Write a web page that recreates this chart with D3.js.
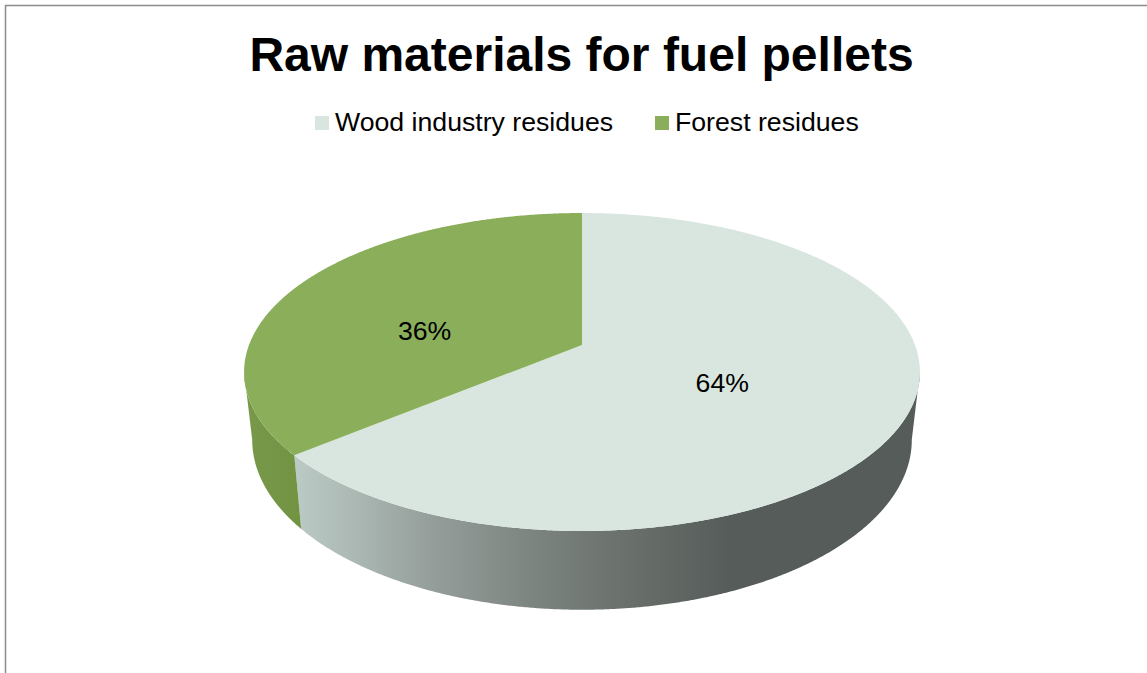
<!DOCTYPE html>
<html>
<head>
<meta charset="utf-8">
<script src="https://cdn.jsdelivr.net/npm/d3@7"></script>
<style>
html,body{margin:0;padding:0;background:#fff;overflow:hidden}
svg{display:block}
text{font-family:"Liberation Sans",Arial,sans-serif;fill:#000}
</style>
</head>
<body>
<svg id="chart" width="1147" height="673"></svg>
<script>
const categories = ["Wood industry residues", "Forest residues"];
const seriesValues = [64, 36];
const valueLabels = ["64%", "36%"];
const titleText = "Raw materials for fuel pellets";

const topColors = ["#d9e6df", "#8aae5a"];

const svg = d3.select("#chart");

// Perspective projection of a unit disc: apex, tilt and depth of the 3D pie
const cx = 582, tilt = 0.1698;
const topFace = {y0: 345, a: 154.4, c: 333};
const baseFace = {y0: 411, a: 165, c: 325};
function project(face, angle, r = 1) {
  const u = Math.sin(angle) * r, v = -Math.cos(angle) * r;
  const w = 1 - tilt * v;
  return [cx + face.c * u / w, face.y0 + face.a * v / w];
}
const pie = d3.pie().sort(null).startAngle(0).endAngle(2 * Math.PI);
const arcs = pie(seriesValues);
const line = d3.line();
const arcAngles = (a0, a1) => {
  const n = Math.max(2, Math.ceil((a1 - a0) / 0.005));
  return d3.range(n + 1).map(i => a0 + (a1 - a0) * i / n);
};

// Gradients
const defs = svg.append("defs");
const g1 = defs.append("linearGradient").attr("id", "wallLight")
  .attr("gradientUnits", "userSpaceOnUse").attr("x1", 292).attr("x2", 920).attr("y1", 0).attr("y2", 0);
[[0, "#bccbc6"], [0.1, "#abb8b3"], [0.22, "#959e9a"], [0.4, "#7a827e"], [0.58, "#646a66"], [0.7, "#565c59"], [1, "#565c59"]]
  .forEach(([o, c]) => g1.append("stop").attr("offset", o).attr("stop-color", c));
const g2 = defs.append("linearGradient").attr("id", "wallGreen")
  .attr("gradientUnits", "userSpaceOnUse").attr("x1", 244).attr("x2", 300).attr("y1", 0).attr("y2", 0);
[[0, "#78994a"], [1, "#729342"]]
  .forEach(([o, c]) => g2.append("stop").attr("offset", o).attr("stop-color", c));
const wallFills = ["url(#wallLight)", "url(#wallGreen)"];

// Chart border (open on right and bottom)
svg.append("path").attr("d", "M5.5,673V5.5H1147").attr("fill", "none").attr("stroke", "#8c8c8c").attr("stroke-width", 1.5);

// Side walls: only the part of each slice facing the viewer
const frontStart = Math.PI / 2 + 0.17, frontEnd = 3 * Math.PI / 2 - 0.17;
arcs.forEach((d, i) => {
  const a0 = Math.max(d.startAngle, frontStart), a1 = Math.min(d.endAngle, frontEnd);
  if (a1 <= a0) return;
  const angles = arcAngles(a0, a1);
  const pts = angles.map(a => project(topFace, a)).concat(angles.slice().reverse().map(a => project(baseFace, a)));
  svg.append("path").attr("d", line(pts) + "Z").attr("fill", wallFills[i]);
});

// Top faces
arcs.forEach((d, i) => {
  const pts = [[cx, topFace.y0]].concat(arcAngles(d.startAngle, d.endAngle).map(a => project(topFace, a)));
  svg.append("path").attr("d", line(pts) + "Z").attr("fill", topColors[i]);
});

// Value labels
const labelNudge = [[-16, 4], [-12, 18]];
arcs.forEach((d, i) => {
  const p = project(topFace, (d.startAngle + d.endAngle) / 2, 0.5);
  svg.append("text").attr("x", p[0] + labelNudge[i][0]).attr("y", p[1] + labelNudge[i][1])
    .attr("text-anchor", "middle").attr("dominant-baseline", "central")
    .attr("font-size", 26.67).text(valueLabels[i]);
});

// Title
svg.append("text").attr("x", 581.5).attr("y", 71).attr("text-anchor", "middle")
  .attr("font-size", 48).attr("font-weight", "bold").text(titleText);

// Legend
const legendX = [315, 655];
categories.forEach((c, i) => {
  svg.append("rect").attr("x", legendX[i]).attr("y", 116).attr("width", 14).attr("height", 14).attr("fill", topColors[i]);
  svg.append("text").attr("x", legendX[i] + 20).attr("y", 131).attr("font-size", 26.67).text(c);
});
</script>
</body>
</html>
